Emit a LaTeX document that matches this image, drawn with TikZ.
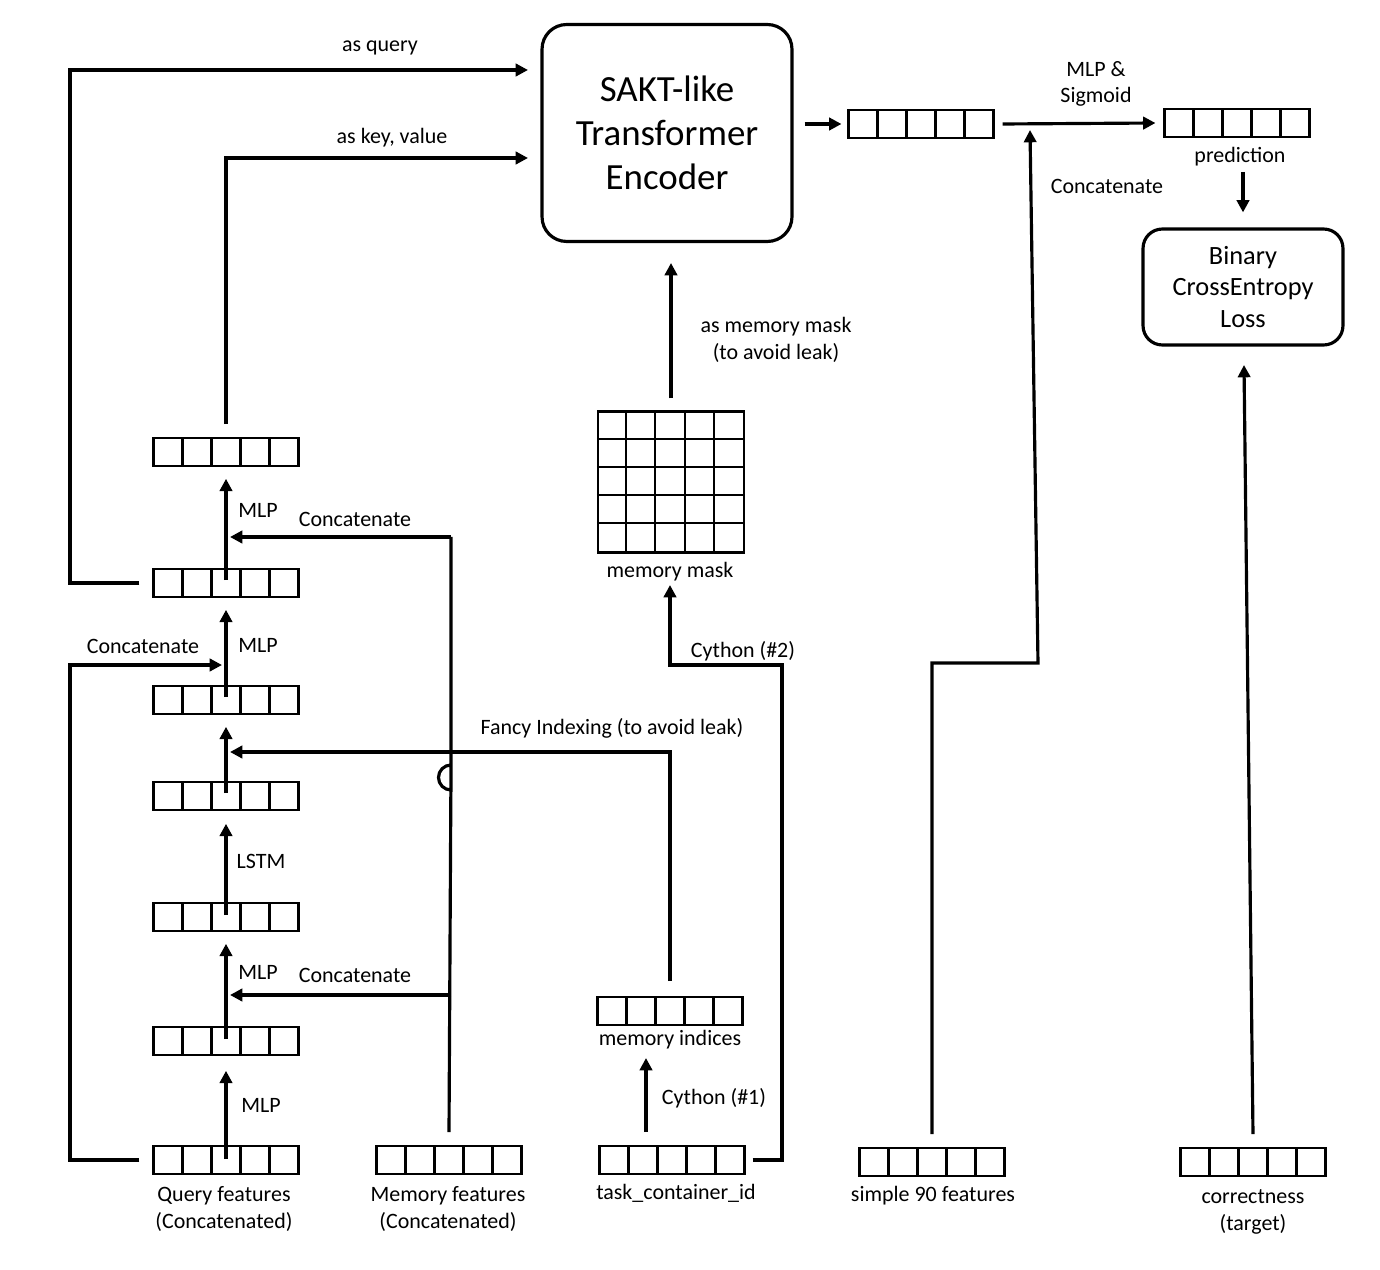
\documentclass[tikz,border=0pt]{standalone}
\usepackage{fontspec}
\setmainfont{Carlito}
\usetikzlibrary{arrows.meta,calc}
\begin{document}
\begin{tikzpicture}[x=0.02cm,y=-0.02cm,
  vec/.style={draw,line width=1.2pt,minimum width=2.9cm,minimum height=0.55cm,inner sep=0,
    path picture={\foreach \i in {1,2,3,4}{\draw[line width=1.2pt] ([xshift=\i*0.58cm]path picture bounding box.south west) -- ([xshift=\i*0.58cm]path picture bounding box.north west);}}},
  ln/.style={line width=1.8pt},
  ar/.style={line width=1.8pt,-{Triangle[length=7pt,width=7pt]}},
  lbl/.style={font=\fontsize{12.5pt}{15pt}\selectfont,align=center,inner sep=1pt},
  box/.style={draw,line width=1.8pt,rounded corners=14pt,align=center}]
\useasboundingbox (0,0) rectangle (1380,1270);
% transformer
\node[box,minimum width=5cm,minimum height=4.34cm,font=\fontsize{21pt}{25pt}\selectfont] (tr) at (667,133) {SAKT-like\\Transformer\\Encoder};
\node[box,minimum width=4cm,minimum height=2.32cm,font=\fontsize{15pt}{18pt}\selectfont,rounded corners=11pt] (loss) at (1243,287) {Binary\\CrossEntropy\\Loss};
% vectors
\node[vec] (out) at (921,124) {};
\node[vec] (pred) at (1237,123) {};
\node[vec] (corr) at (1253,1162) {};
\node[vec] (s90) at (932,1162) {};
\node[vec] (tci) at (672,1160) {};
\node[vec] (mi) at (670,1011) {};
\node[vec] (mf) at (449,1160) {};
\node[vec] (q) at (226,1160) {};
\node[vec] (v1) at (226,1041) {};
\node[vec] (v2) at (226,917) {};
\node[vec] (v3) at (226,796) {};
\node[vec] (v4) at (226,700) {};
\node[vec] (v5) at (226,583) {};
\node[vec] (v6) at (226,452) {};
% memory mask grid
\node[draw,line width=1.2pt,minimum width=2.92cm,minimum height=2.82cm,inner sep=0] (mm) at (671,482) {};
\foreach \i in {1,2,3,4}{
  \draw[line width=1.2pt] ($(mm.north west)+(\i*29.2,0)$) -- ($(mm.south west)+(\i*29.2,0)$);
  \draw[line width=1.2pt] ($(mm.north west)+(0,\i*28.2)$) -- ($(mm.north east)+(0,\i*28.2)$);}
% labels
\node[lbl] at (224,1209) {Query features\\(Concatenated)};
\node[lbl] at (448,1209) {Memory features\\(Concatenated)};
\node[lbl] at (676,1193) {task\_container\_id};
\node[lbl] at (933,1196) {simple 90 features};
\node[lbl] at (1253,1212) {correctness\\(target)};
\node[lbl] at (670,1040) {memory indices};
\node[lbl] at (670,572) {memory mask};
\node[lbl] at (1240,157) {prediction};
\node[lbl] at (1096,84) {MLP \&\\Sigmoid};
\node[lbl] at (1107,186) {Concatenate};
\node[lbl] at (776,340) {as memory mask\\(to avoid leak)};
\node[lbl] at (380,48) {as query};
\node[lbl] at (392,138) {as key, value};
\node[lbl] at (714,1098) {Cython (\#1)};
\node[lbl] at (743,651) {Cython (\#2)};
\node[lbl] at (612,728) {Fancy Indexing (to avoid leak)};
\node[lbl] at (355,519) {Concatenate};
\node[lbl] at (355,975) {Concatenate};
\node[lbl] at (143,646) {Concatenate};
\node[lbl] at (261,1105) {MLP};
\node[lbl] at (258,972) {MLP};
\node[lbl] at (261,861) {LSTM};
\node[lbl] at (258,645) {MLP};
\node[lbl] at (258,510) {MLP};
% column arrows
\draw[ar] ([yshift=-0.28cm]q.north) -- ([yshift=-0.3cm]v1.south);
\draw[ar] ([yshift=-0.26cm]v1.north) -- ([yshift=-0.24cm]v2.south);
\draw[ar] ([yshift=-0.26cm]v2.north) -- ([yshift=-0.26cm]v3.south);
\draw[ar] ([yshift=-0.24cm]v3.north) -- ([yshift=-0.24cm]v4.south);
\draw[ar] ([yshift=-0.24cm]v4.north) -- ([yshift=-0.24cm]v5.south);
\draw[ar] ([yshift=-0.24cm]v5.north) -- ([yshift=-0.24cm]v6.south);
% as query / key value
\draw[ar] ([xshift=-0.26cm]v5.west) -- (70,583) -- (70,70) -- (528,70);
\draw[ar] ([yshift=0.26cm]v6.north) -- (226,158) -- (528,158);
% query concat loop
\draw[ar] ([xshift=-0.26cm]q.west) -- (70,1160) -- (70,665) -- (222,665);
% memory features
\draw[ln] ([yshift=0.26cm]mf.north) -- (451,765) arc[start angle=-90,end angle=-270,radius=12.5] -- (451,537);
\draw[ar] (451,537) -- (230,537);
\draw[ar] (451,995) -- (230,995);
% fancy indexing
\draw[ar] ([yshift=0.3cm]mi.north) -- (670,752) -- (230,752);
% cython
\draw[ar] ([yshift=0.26cm]tci.north-|646,0) -- (646,1058);
\draw[ar] ([xshift=0.14cm]tci.east) -- (782,1160) -- (782,665) -- (670,665) -- (670,585);
\draw[ar] ([yshift=0.24cm]mm.north) -- (671,263);
% right side
\draw[ar] ([xshift=0.22cm]tr.east|-out) -- ([xshift=-0.12cm]out.west);
\draw[ar] ([xshift=0.16cm]out.east) -- ([xshift=-0.16cm]pred.west);
\draw[ar] (1243,172) -- ([yshift=0.3cm]loss.north);
\draw[ar] ([yshift=0.26cm]s90.north) -- (932,663) -- (1038,663) -- (1030,130);
\draw[ar] ([yshift=0.26cm]corr.north) -- (1244,365);
\end{tikzpicture}
\end{document}
